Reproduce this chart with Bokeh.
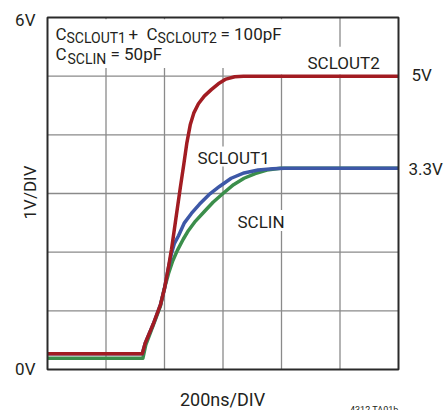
import math
from bokeh.plotting import figure
from bokeh.models import Label, Range1d
from bokeh.embed import file_html
from bokeh.resources import INLINE

# ---- data (x in time divisions of 200ns, y in volts) ----
sclout2_x = [0, 1.62, 1.67, 1.81, 1.93, 2.0, 2.06, 2.12, 2.19, 2.27, 2.33, 2.38, 2.44, 2.50, 2.58, 2.68, 2.80, 2.92, 3.05, 3.2, 3.35, 6.0]
sclout2_y = [0.27, 0.27, 0.45, 0.78, 1.1, 1.38, 1.7, 2.05, 2.54, 3.1, 3.5, 3.85, 4.17, 4.37, 4.53, 4.66, 4.77, 4.87, 4.95, 4.99, 5.0, 5.0]

sclout1_x = [0, 1.62, 1.67, 1.81, 1.93, 2.0, 2.06, 2.12, 2.17, 2.24, 2.34, 2.46, 2.60, 2.76, 2.94, 3.14, 3.36, 3.60, 3.85, 4.05, 6.0]
sclout1_y = [0.27, 0.27, 0.45, 0.78, 1.1, 1.38, 1.7, 1.98, 2.15, 2.28, 2.50, 2.66, 2.82, 2.98, 3.12, 3.26, 3.35, 3.40, 3.42, 3.43, 3.43]

sclin_x = [0, 1.63, 1.68, 1.81, 1.93, 1.99, 2.07, 2.14, 2.22, 2.32, 2.41, 2.53, 2.67, 2.83, 3.0, 3.18, 3.36, 3.55, 3.75, 3.98, 6.0]
sclin_y = [0.19, 0.19, 0.42, 0.76, 1.08, 1.35, 1.64, 1.85, 2.03, 2.22, 2.37, 2.53, 2.68, 2.85, 3.0, 3.15, 3.26, 3.34, 3.40, 3.43, 3.43]

grid_ticks = [1, 2, 3, 4, 5]
n_div = 6

FONT = "Roboto"
TXT = "#231f20"

W, H = 445, 410
# frame of the scope grid inside the canvas (pixels)
FL, FR, FT, FB = 47, 398, 17, 369
sx = (FR - FL) / n_div
sy = (FB - FT) / n_div

p = figure(width=W, height=H, output_backend="svg", toolbar_location=None,
           x_axis_type=None, y_axis_type=None,
           x_range=Range1d(-FL / sx, n_div + (W - FR) / sx),
           y_range=Range1d(-(H - FB) / sy, n_div + FT / sy),
           min_border=0)
p.outline_line_color = None
p.background_fill_color = "white"
p.border_fill_color = "white"

# grid
p.segment(x0=grid_ticks, y0=[0] * 5, x1=grid_ticks, y1=[n_div] * 5, line_color="#8a8a8a", line_width=1.3)
p.segment(x0=[0] * 5, y0=grid_ticks, x1=[n_div] * 5, y1=grid_ticks, line_color="#8a8a8a", line_width=1.3)

# white masks behind the texts
mask_l = [0.03, 3.9, 4.9, 2.9, 3.9]
mask_r = [4.06, 4.1, 5.1, 3.1, 4.1]
mask_t = [5.97, 5.2, 5.5, 3.8, 2.72]
mask_b = [5.14, 5.03, 5.03, 3.46, 2.36]
p.quad(left=mask_l, right=mask_r, top=mask_t, bottom=mask_b, fill_color="white", line_color=None)

# curves
p.line(sclin_x, sclin_y, line_color="#3B8E4B", line_width=3.5, line_join="round")
p.line(sclout1_x, sclout1_y, line_color="#3D58A7", line_width=3.5, line_join="round")
p.line(sclout2_x, sclout2_y, line_color="#A21C22", line_width=3.5, line_join="round")

# frame border
p.quad(left=[0], right=[n_div], bottom=[0], top=[n_div], fill_color=None,
       line_color="#2a2a2a", line_width=2)


def px(x):
    return (x - FL) / sx


def py(y):
    return (FB - y) / sy


def lab(x, y, text, size=17, align="left", baseline="middle", angle=0):
    p.add_layout(Label(x=px(x), y=py(y), text=text, text_font=FONT, text_font_size=f"{size}px",
                       text_color=TXT, text_align=align, text_baseline=baseline, angle=angle))


# axis texts (positions in canvas pixels, vertical = centre of capitals)
lab(35, 19.5, "6V", align="right")
lab(35, 368.5, "0V", align="right")
lab(411, 74, "5V")
lab(408, 168.5, "3.3V")
lab(29, 192, "1V/DIV", align="center", angle=math.pi / 2)
lab(222, 399, "200ns/DIV", size=18, align="center")
lab(398, 404, "4312 TA01b", size=9, align="right", baseline="top")

# series labels
lab(307, 62, "SCLOUT2")
lab(197, 157, "SCLOUT1")
lab(237, 221.5, "SCLIN")

# capacitance note
lab(55, 33, "C")
lab(66, 37.5, "SCLOUT1", size=14)
lab(128, 33, "+")
lab(146, 33, "C")
lab(157, 37.5, "SCLOUT2", size=14)
lab(220, 33, "= 100pF")
lab(55, 53, "C")
lab(67, 58, "SCLIN", size=14)
lab(110, 53, "= 50pF")

open("out.html", "w").write(file_html(p, INLINE))
